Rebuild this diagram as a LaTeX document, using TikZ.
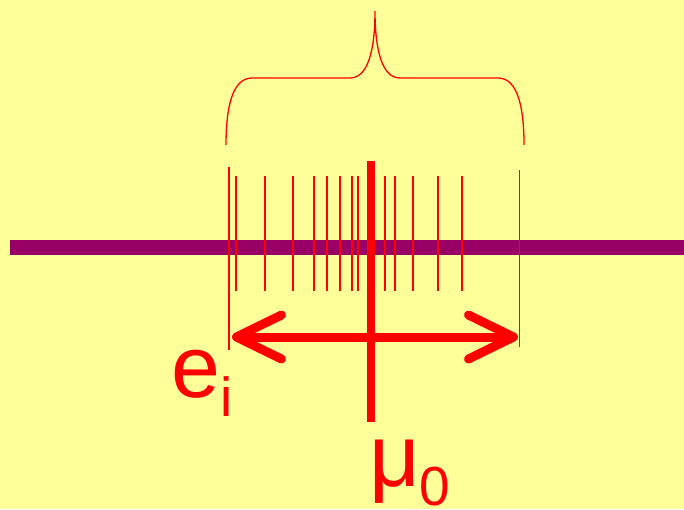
\documentclass[tikz,border=0pt]{standalone}
\usepackage{fontspec}
\setmainfont{Liberation Sans}
\usetikzlibrary{arrows.meta}
\definecolor{bgyellow}{HTML}{FFFF99}
\definecolor{barpurple}{HTML}{990066}
\definecolor{markred}{HTML}{FF0000}
\newcommand{\subidx}[1]{\raisebox{-19pt}{\fontsize{55}{60}\selectfont #1}}

\begin{document}
\begin{tikzpicture}[
  x=1pt, y=-1pt,
  tick/.style={draw=markred, line width=2pt},
  guide/.style={draw=markred, line width=1.3pt},
  dbl/.style={{Straight Barb[length=45pt,width=44pt,round]}-{Straight Barb[length=45pt,width=44pt,round]},
              draw=markred, line width=9pt},
  lbl/.style={text=markred, inner sep=0pt, anchor=base west, font=\fontsize{88}{96}\selectfont}
]
\fill[bgyellow] (0,0) rectangle (684,509);
\useasboundingbox (0,0) rectangle (684,509);

% axis
\draw[barpurple, line width=15pt] (10,247) -- (684,247);

% samples
\foreach \x in {235.7,265,293,313.7,327,340,352,358,385.3,395,412.7,438.3,462}
  \draw[tick] (\x,176) -- (\x,291);

% range limits
\coordinate (limL) at (229,350);
\coordinate (limR) at (519.5,347);
\draw[guide] (229,167) -- (limL);
\draw[guide] (519.5,170) -- (limR);

% brace over the range
\draw[guide] (226,145) .. controls (226,100) and (235,78) .. (252,78) -- (350,78)
  .. controls (368,78) and (375,50) .. (375,11)
  .. controls (375,50) and (382,78) .. (400,78) -- (498,78)
  .. controls (515,78) and (524,100) .. (524,145);

% mean
\coordinate (meanT) at (370.7,161);
\coordinate (meanB) at (370.7,422);
\draw[markred, line width=8pt] (meanT) -- (meanB);

% error span
\coordinate (arrL) at (232,337);
\coordinate (arrR) at (518,337);
\draw[dbl] (arrL) -- (arrR);

\node[lbl] (ei) at (171,397) {e\subidx{i}};
\node[lbl] (mu0) at (369,486) {μ\subidx{0}};
\end{tikzpicture}
\end{document}
